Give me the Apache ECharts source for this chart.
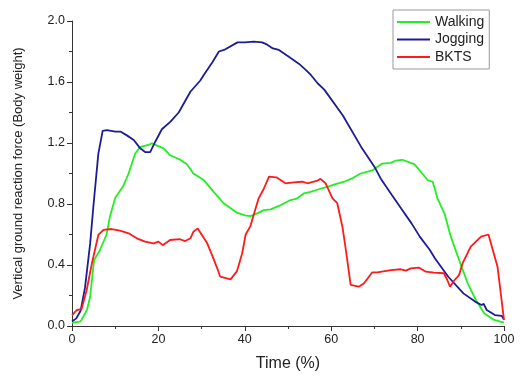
<!DOCTYPE html>
<html>
<head>
<meta charset="utf-8">
<script src="https://cdn.jsdelivr.net/npm/echarts@6/dist/echarts.min.js"></script>
<style>html,body{margin:0;padding:0;background:#fff}#c{width:526px;height:383px}</style>
</head>
<body>
<div id="c"></div>
<script>
const seriesNames = ['Walking', 'Jogging', 'BKTS'];
const xTicks = [0, 20, 40, 60, 80, 100];
const yTicks = [0.0, 0.4, 0.8, 1.2, 1.6, 2.0];

const walking = [[0,0.02],[2,0.03],[3,0.08],[3.5,0.11],[4.2,0.19],[5.1,0.43],[6.5,0.50],[8,0.60],[8.8,0.72],[10,0.84],[11.9,0.92],[13.1,1.0],[14.6,1.13],[15.8,1.175],[17.7,1.187],[18.5,1.198],[21.2,1.165],[22.7,1.12],[24.3,1.10],[25.1,1.089],[26.6,1.06],[28.1,1.0],[30.5,0.957],[32.8,0.88],[35.1,0.805],[38.2,0.743],[40,0.725],[41.3,0.72],[43,0.74],[44.4,0.76],[46,0.765],[48.3,0.793],[50.6,0.826],[52,0.835],[53.7,0.87],[55.2,0.88],[57.5,0.90],[59.1,0.913],[61,0.93],[63,0.946],[65,0.97],[66.8,1.0],[69.5,1.02],[71.8,1.065],[73.8,1.07],[75,1.085],[76.5,1.09],[78.4,1.07],[79.2,1.062],[80.5,1.02],[82.3,0.957],[83.5,0.946],[84.6,0.837],[86.2,0.739],[87.7,0.586],[89.6,0.433],[91.6,0.28],[93.5,0.17],[95.4,0.083],[97.7,0.04],[100,0.022]];

const jogging = [[0,0.03],[1,0.05],[2,0.10],[3,0.25],[4.2,0.54],[5,0.80],[6.1,1.13],[7.1,1.28],[8.1,1.285],[10,1.275],[11.2,1.275],[12.7,1.25],[14.3,1.22],[15.8,1.165],[17,1.14],[18.1,1.14],[19.3,1.21],[20.8,1.29],[22.8,1.34],[24.7,1.40],[27.4,1.536],[29.7,1.61],[30.5,1.646],[32.5,1.73],[34,1.80],[35.2,1.81],[38.3,1.86],[40,1.86],[42.1,1.865],[44,1.86],[45.2,1.845],[46.5,1.82],[47.9,1.81],[50.7,1.755],[51,1.744],[52.5,1.72],[54.1,1.68],[55.3,1.646],[56.9,1.59],[58.4,1.55],[62.7,1.38],[66.9,1.176],[70,1.045],[71.6,0.96],[74,0.86],[76.2,0.77],[78.6,0.673],[80.5,0.586],[82.8,0.50],[84,0.444],[87.1,0.323],[90.6,0.214],[93.3,0.16],[94.8,0.138],[95.3,0.145],[96,0.105],[97.9,0.072],[99.5,0.066],[100,0.04]];

const bkts = [[0,0.07],[1.1,0.105],[2.2,0.11],[3.4,0.236],[4.6,0.41],[6.1,0.597],[7.3,0.63],[9.2,0.636],[11.1,0.625],[13.1,0.608],[15,0.575],[16.9,0.553],[18.9,0.542],[20,0.553],[21,0.53],[22.7,0.564],[25,0.569],[26.2,0.557],[27.4,0.575],[28.1,0.618],[29.1,0.64],[31.2,0.548],[32.5,0.46],[33.6,0.38],[34.3,0.323],[36.7,0.306],[38.2,0.36],[39.4,0.477],[40.2,0.60],[41.3,0.655],[43.2,0.837],[44.4,0.90],[45.6,0.979],[47.3,0.975],[49.5,0.935],[51.3,0.942],[53.3,0.946],[54.5,0.936],[56.8,0.953],[57.5,0.965],[58.7,0.936],[60.3,0.837],[61.4,0.805],[62.6,0.651],[63.4,0.498],[64.5,0.269],[66.4,0.258],[67.6,0.28],[69.5,0.352],[70.7,0.352],[73.8,0.367],[76.1,0.372],[77.3,0.363],[78.4,0.378],[80.3,0.383],[81.9,0.356],[83.8,0.35],[86.1,0.346],[86.9,0.30],[87.5,0.258],[88.5,0.30],[89.6,0.334],[90.4,0.41],[92.3,0.52],[93.5,0.553],[94.7,0.586],[96.4,0.60],[98.5,0.389],[100,0.04]];

const colors = ['#22ee22', '#1c1c96', '#ff1a1a'];
const font = 'Arial, "Liberation Sans", sans-serif';

const chart = echarts.init(document.getElementById('c'));
const axisCommon = {
  axisLine: {show: true, lineStyle: {color: '#333', width: 1}},
  axisTick: {show: true, inside: false, length: 5, lineStyle: {color: '#333'}},
  minorTick: {show: true, splitNumber: 2, length: 3, lineStyle: {color: '#333'}},
  splitLine: {show: false},
  minorSplitLine: {show: false},
  axisLabel: {color: '#222', fontSize: 12.5, fontFamily: font}
};
chart.setOption({
  animation: false,
  grid: {left: 72, right: 22, top: 21, bottom: 57, containLabel: false},
  legend: {
    data: seriesNames,
    orient: 'vertical',
    left: 393, top: 10,
    borderColor: '#999', borderWidth: 1,
    padding: [4, 5, 4, 4],
    icon: 'rect',
    itemGap: 1.5, itemWidth: 33, itemHeight: 2,
    textStyle: {fontSize: 14, color: '#222', fontFamily: font, lineHeight: 16}
  },
  xAxis: Object.assign({}, axisCommon, {
    type: 'value', min: xTicks[0], max: xTicks[xTicks.length - 1], interval: 20,
    name: 'Time (%)', nameLocation: 'middle', nameGap: 30,
    nameTextStyle: {fontSize: 16, color: '#222', fontFamily: font},
    axisLabel: Object.assign({}, axisCommon.axisLabel, {margin: 7})
  }),
  yAxis: Object.assign({}, axisCommon, {
    type: 'value', min: yTicks[0], max: yTicks[yTicks.length - 1], interval: 0.4,
    name: 'Vertical ground reaction force (Body weight)', nameLocation: 'middle', nameGap: 47,
    nameTextStyle: {fontSize: 13, color: '#222', fontFamily: font},
    axisLabel: Object.assign({}, axisCommon.axisLabel, {margin: 7, formatter: v => v.toFixed(1)})
  }),
  series: [walking, jogging, bkts].map((d, i) => ({
    name: seriesNames[i], type: 'line', data: d, symbol: 'none',
    lineStyle: {color: colors[i], width: 1.8}, itemStyle: {color: colors[i]}
  }))
});
</script>
</body>
</html>
